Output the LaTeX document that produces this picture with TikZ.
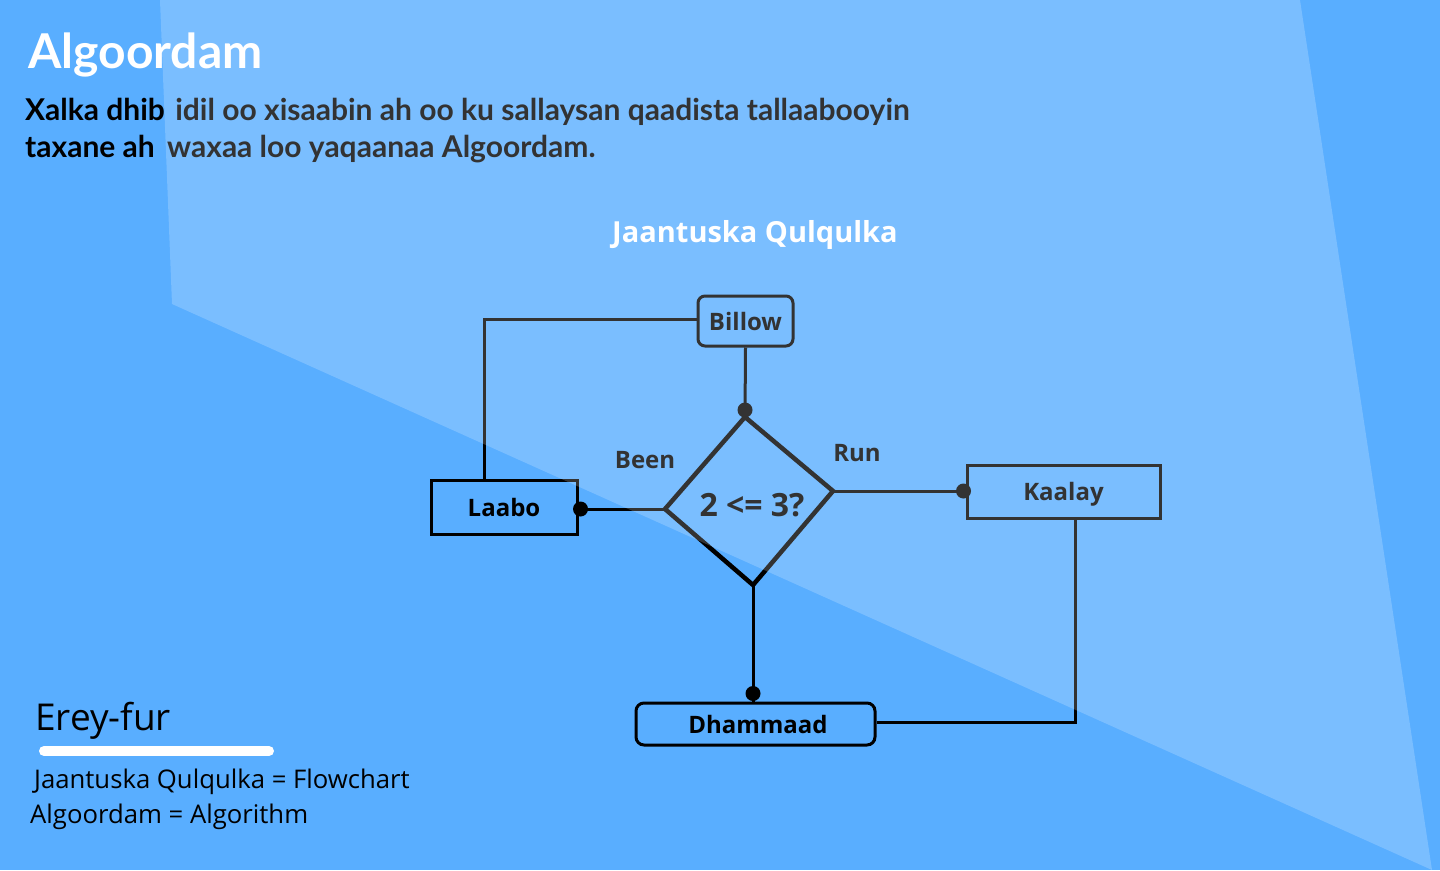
\documentclass[tikz,border=0pt]{standalone}
\usepackage{fontspec}
\IfFontExistsTF{Noto Sans Bold}
  {\setmainfont{Noto Sans}[BoldFont={Noto Sans Bold}]}
  {\IfFontExistsTF{Open Sans Bold}
     {\setmainfont{Open Sans}[BoldFont={Open Sans Bold}]}
     {\setmainfont{TeX Gyre Heros}}}
\newfontfamily\lato{Lato}
\usetikzlibrary{calc}
\definecolor{bgblue}{RGB}{89,174,255}
\begin{document}
\begin{tikzpicture}[x=1pt,y=-1pt,
  box/.style={draw=black,line width=3pt,inner sep=0pt,font=\fontsize{24}{28}\selectfont\bfseries},
  conn/.style={draw=black,line width=3pt},
  dotc/.style={circle,fill=black,inner sep=0pt,minimum size=15pt},
  lbl/.style={font=\fontsize{24}{28}\selectfont\bfseries,text=black}
]
\useasboundingbox (0,0) rectangle (1440,870);
\fill[bgblue] (0,0) rectangle (1440,870);

% header
\node[anchor=base west,text=white,inner sep=0pt,font=\lato\bfseries\fontsize{48}{52}\selectfont] (title) at (28,68) {Algoordam};
\node[anchor=base west,inner sep=0pt,font=\lato\bfseries\fontsize{30}{36}\selectfont] (line1) at (25,120) {Xalka dhib\hspace{3pt} idil oo xisaabin ah oo ku sallaysan qaadista tallaabooyin};
\node[anchor=base west,inner sep=0pt,font=\lato\bfseries\fontsize{30}{36}\selectfont] (line2) at (25,157) {taxane ah\hspace{5pt} waxaa loo yaqaanaa Algoordam.};
\node[text=white,font=\fontsize{29}{33}\selectfont\bfseries] (sub) at (755,235) {Jaantuska Qulqulka};

% nodes
\node[box,rounded corners=7pt,minimum width=95pt,minimum height=50pt] (billow) at (745.5,321) {Billow};
\node[box,minimum width=146pt,minimum height=54pt] (laabo) at (504,507) {Laabo};
\node[box,minimum width=193pt,minimum height=53pt,text depth=0pt] (kaalay) at (1063.5,491.5) {Kaalay};
\node[box,rounded corners=8pt,minimum width=239pt,minimum height=42pt] (dham) at (755.5,724) {\hspace{5pt}Dhammaad};

\coordinate (dt) at (745,417);
\coordinate (dr) at (833,491);
\coordinate (db) at (753,585);
\coordinate (dl) at (665,509);
\draw[line width=4.5pt,line join=miter] (dt) -- (dr) -- (db) -- (dl) -- cycle;
\node[font=\fontsize{32}{36}\selectfont\bfseries] (cond) at (752,505) {2 <= 3?};

% labels
\node[lbl] (been) at (645,460) {Been};
\node[lbl] (run) at (857,453) {Run};

% connectors
\draw[conn] ([yshift=2pt]billow.west) -| ([xshift=-20pt]laabo.north);
\draw[conn] (billow.south) -- (dt);
\node[dotc] (d1) at ($(dt)+(0,-7)$) {};
\draw[conn] (dl) -- (laabo.east |- dl);
\node[dotc] (d2) at ($(laabo.east |- dl)+(2,0)$) {};
\draw[conn] (dr) -- (kaalay.west |- dr);
\node[dotc] (d3) at ($(kaalay.west |- dr)+(-2,0)$) {};
\draw[conn] (db) -- (db |- dham.north);
\node[dotc] (d4) at ($(db |- dham.north)+(0,-8)$) {};
\draw[conn] ([xshift=11.5pt]kaalay.south) |- ([yshift=2pt]dham.east);

% legend
\node[anchor=base west,inner sep=0pt,font=\fontsize{37}{42}\selectfont] (erey) at (35,730) {Erey-fur};
\coordinate (bara) at (44,751);
\coordinate (barb) at (269,751);
\draw[white,line width=10pt,line cap=round] (bara) -- (barb);
\node[anchor=base west,inner sep=0pt,font=\fontsize{25.7}{30}\selectfont] (g1) at (34,788) {Jaantuska Qulqulka = Flowchart};
\node[anchor=base west,inner sep=0pt,font=\fontsize{25.7}{30}\selectfont] (g2) at (30,823) {Algoordam = Algorithm};

% light overlay
\fill[white,fill opacity=0.2] (160,0) -- (1300,0) -- (1432,870) -- (172,304) -- cycle;
\end{tikzpicture}
\end{document}
